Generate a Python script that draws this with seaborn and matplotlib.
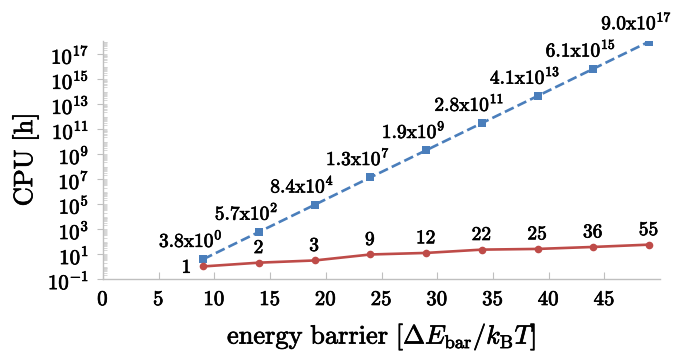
import numpy as np
import pandas as pd
import seaborn as sns
import matplotlib.pyplot as plt
import matplotlib.patheffects as pe
from matplotlib.ticker import FixedLocator, FuncFormatter, LogLocator, NullFormatter

barrier = [9, 14, 19, 24, 29, 34, 39, 44, 49]
cpu_brute = [3.8e0, 5.7e2, 8.4e4, 1.3e7, 1.9e9, 2.8e11, 4.1e13, 6.1e15, 9.0e17]
cpu_method = [1, 2, 3, 9, 12, 22, 25, 36, 55]
brute_labels = ['3.8x10^{0}', '5.7x10^{2}', '8.4x10^{4}', '1.3x10^{7}', '1.9x10^{9}',
                '2.8x10^{11}', '4.1x10^{13}', '6.1x10^{15}', '9.0x10^{17}']
method_labels = ['1', '2', '3', '9', '12', '22', '25', '36', '55']

df = pd.DataFrame({'barrier': barrier, 'brute': cpu_brute, 'method': cpu_method})

sns.set_style('white')
plt.rcParams['mathtext.fontset'] = 'cm'
plt.rcParams['font.family'] = ['DejaVu Serif']
plt.rcParams['text.color'] = 'black'
plt.rcParams['xtick.labelcolor'] = 'black'
plt.rcParams['ytick.labelcolor'] = 'black'
plt.rcParams['axes.labelcolor'] = 'black'

# slight stroke to mimic the heavier text rendering of the original
heavy = [pe.withStroke(linewidth=0.5, foreground='black')]

fig = plt.figure(figsize=(6.82, 3.54), dpi=100)
ax = fig.add_axes([0.151, 0.212, 0.817, 0.672])

blue = '#4a7ebb'
red = '#be4b48'
sns.lineplot(data=df, x='barrier', y='brute', ax=ax, color=blue, linestyle='--',
             linewidth=1.9, marker='s', markersize=5.5, markeredgewidth=0)
sns.lineplot(data=df, x='barrier', y='method', ax=ax, color=red, linestyle='-',
             linewidth=1.9, marker='o', markersize=5.5, markeredgewidth=0)

ax.set_yscale('log')
ax.set_xlim(0, 50)
ax.set_ylim(1e-1, 1e18)

ax.xaxis.set_major_locator(FixedLocator(np.arange(0, 50, 5)))
ax.xaxis.set_major_formatter(FuncFormatter(lambda v, p: r'$\mathrm{%d}$' % v))
ax.yaxis.set_major_locator(FixedLocator([10.0 ** k for k in range(-1, 18, 2)]))
ax.yaxis.set_major_formatter(FuncFormatter(
    lambda v, p: r'$\mathrm{10^{%d}}$' % round(np.log10(v))))
ax.yaxis.set_minor_locator(LogLocator(base=10, subs=np.arange(2, 10), numticks=40))
ax.yaxis.set_minor_formatter(NullFormatter())

for s in ['top', 'right']:
    ax.spines[s].set_visible(False)
for s in ['left', 'bottom']:
    ax.spines[s].set_color('#bfbfbf')
    ax.spines[s].set_linewidth(1.0)

ax.tick_params(axis='x', which='major', direction='in', length=5, color='#bfbfbf',
               labelsize=15, pad=8, bottom=True)
ax.tick_params(axis='y', which='major', direction='out', length=4, color='#bfbfbf',
               labelsize=15, pad=6, left=True)
ax.tick_params(axis='y', which='minor', direction='in', length=3, color='#d0d0d0',
               width=0.6, left=True)

for xv, yv, lab in zip(barrier, cpu_brute, brute_labels):
    ax.annotate(r'$\mathrm{%s}$' % lab, (xv, yv), textcoords='offset points',
                xytext=(-9, 6), ha='center', va='bottom', fontsize=14,
                path_effects=heavy)
for i, (xv, yv, lab) in enumerate(zip(barrier, cpu_method, method_labels)):
    if i == 0:
        ax.annotate(r'$\mathrm{%s}$' % lab, (xv, yv), textcoords='offset points',
                    xytext=(-12, -1), ha='center', va='center', fontsize=14,
                    path_effects=heavy)
    else:
        ax.annotate(r'$\mathrm{%s}$' % lab, (xv, yv), textcoords='offset points',
                    xytext=(0, 4), ha='center', va='bottom', fontsize=14,
                    path_effects=heavy)

ax.set_xlabel(r'$\mathrm{energy\ barrier}\ [\Delta E_{\mathrm{bar}}/k_{\mathrm{B}}T]$',
              fontsize=19, labelpad=9)
ax.set_ylabel(r'$\mathrm{CPU\ [h]}$', fontsize=19, labelpad=5)
ax.xaxis.label.set_path_effects(heavy)
ax.yaxis.label.set_path_effects(heavy)
for t in ax.get_xticklabels() + ax.get_yticklabels():
    t.set_path_effects(heavy)

fig.savefig('out.png', dpi=100)
